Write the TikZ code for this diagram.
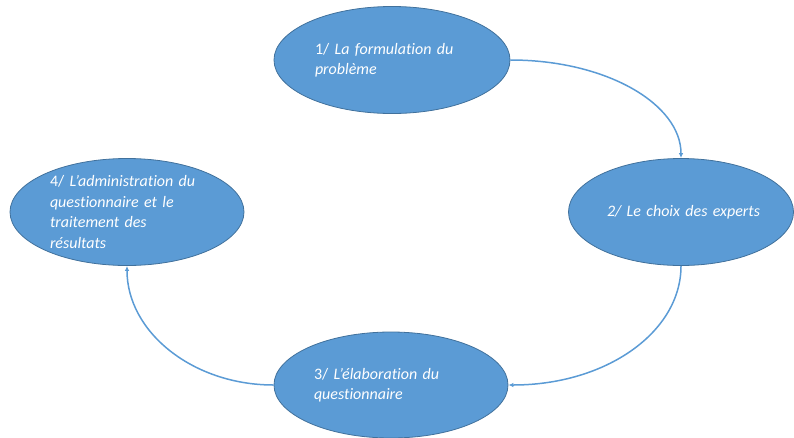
\documentclass[tikz,border=0pt]{standalone}
\usepackage{fontspec}
\setmainfont{Carlito}[Ligatures=NoCommon]
\usepackage{tikz}
\usetikzlibrary{arrows.meta, shapes.geometric}
\definecolor{stepFill}{RGB}{91,155,213}
\definecolor{stepBorder}{RGB}{65,113,156}
\tikzstyle{diagram} = [x = 1pt, y = -1pt]
\tikzstyle{stepEllipse} = [ellipse, draw=stepBorder, fill=stepFill, line width=.8pt, text=white, inner sep=0pt, text width=154pt, align=left, font=\fontsize{16}{20.5}\selectfont]
\tikzstyle{cycleArrow} = [draw=stepFill, line width=1.5pt, -{Latex[length=5pt,width=4.5pt]}]

\begin{document}
\begin{tikzpicture}[diagram]
          \useasboundingbox (0,0) rectangle (794,437);
          \node [stepEllipse, minimum width=236pt, minimum height=107pt] (formulation) at (392,60) {1/ \textit{La formulation du}\\\textit{probl\`eme}};
          \node [stepEllipse, minimum width=225pt, minimum height=107pt, text width=158pt, align=right] (experts) at (681,212) {\textit{2/ Le choix des experts}};
          \node [stepEllipse, minimum width=234pt, minimum height=106pt] (elaboration) at (391,385) {3/ \textit{L’\'elaboration du}\\\textit{questionnaire}};
          \node [stepEllipse, minimum width=234pt, minimum height=107pt] (administration) at (127,212) {4/ \textit{L’administration du}\\\textit{questionnaire et le}\\\textit{traitement des}\\\textit{r\'esultats}};

          \draw [cycleArrow] (formulation.east) to [out=0, in=90, out distance=96pt, in distance=54pt] (experts.north);
          \draw [cycleArrow] (experts.south) to [out=-90, in=0, out distance=66pt, in distance=98pt] (elaboration.east);
          \draw [cycleArrow] (elaboration.west) to [out=180, in=-90, out distance=81pt, in distance=66pt] (administration.south);
        \end{tikzpicture}
\end{document}
